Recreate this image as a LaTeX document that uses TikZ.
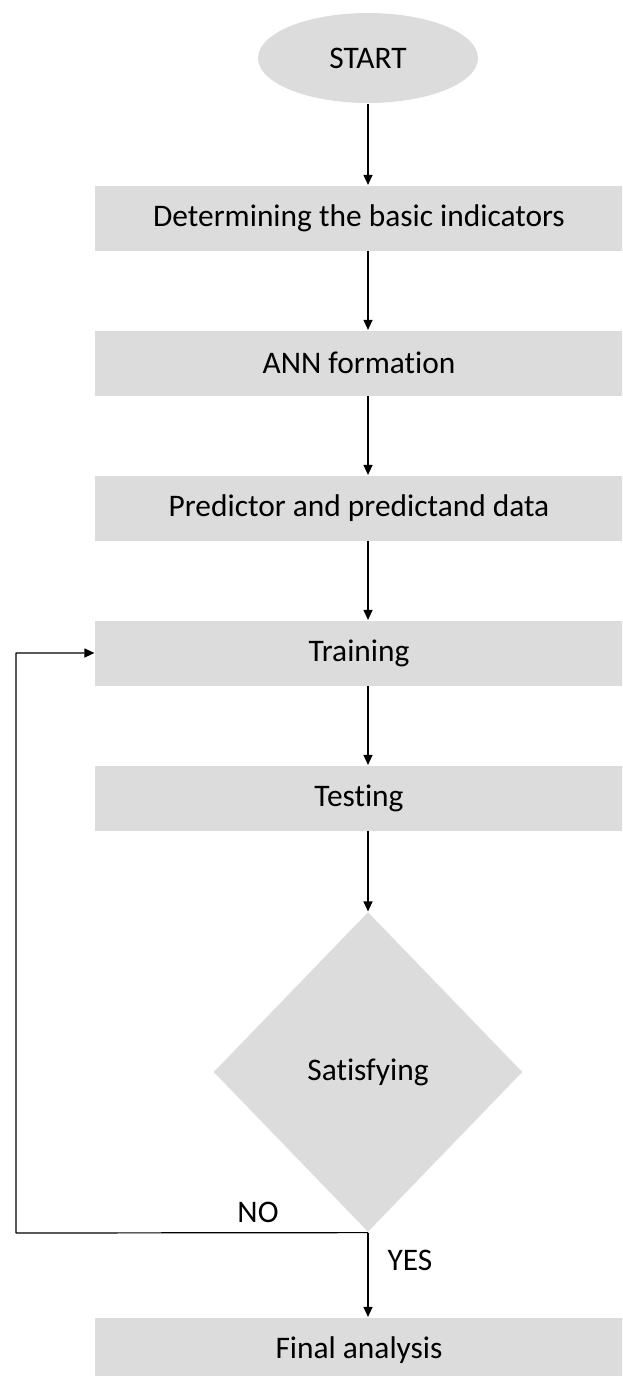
\documentclass[tikz,border=0pt]{standalone}
\usepackage{fontspec}
\setmainfont{Carlito}[Ligatures=NoCommon]
\usetikzlibrary{shapes.geometric,arrows.meta}
\definecolor{boxgray}{RGB}{220,220,220}
\begin{document}
\begin{tikzpicture}[x=0.5pt,y=-0.5pt,line join=round,>={Triangle[length=5pt,width=4.5pt]},line width=0.6pt]
                \tikzset{stepbox/.style={rectangle,fill=boxgray,minimum width=264pt,minimum height=32.5pt,inner sep=0pt,font=\fontsize{15.7pt}{18pt}\selectfont}}
                \tikzset{label style/.style={font=\fontsize{15.7pt}{18pt}\selectfont}}
                \def \xc{368}
                \def \xb{359}
                \useasboundingbox (0,0) rectangle (622,1376);
                \clip (0,0) rectangle (622,1376);
                % start and the chain of steps
                \node[ellipse,fill=boxgray,minimum width=110pt,minimum height=45pt,label style] (start) at (\xc,58) {START};
                \node[stepbox] (indic) at (\xb,218) {Determining the basic indicators};
                \node[stepbox] (ann) at (\xb,363) {ANN formation};
                \node[stepbox] (data) at (\xb,508) {Predictor and predictand data};
                \node[stepbox] (train) at (\xb,653) {Training};
                \node[stepbox] (test) at (\xb,798) {Testing};
                \node[diamond,fill=boxgray,minimum width=154.5pt,minimum height=160pt,inner sep=0pt,label style] (sat) at (\xc,1072) {Satisfying};
                \node[stepbox] (final) at (\xb,1350) {Final analysis};
                \draw[->] (start)--(start|-indic.north);
                \draw[->] (start|-indic.south)--(start|-ann.north);
                \draw[->] (start|-ann.south)--(start|-data.north);
                \draw[->] (start|-data.south)--(start|-train.north);
                \draw[->] (start|-train.south)--(start|-test.north);
                \draw[->] (start|-test.south)--(sat);
                \draw[->] (sat.south)--(sat|-final.north);
                % back to training when not satisfying
                \coordinate (back) at (16,1233);
                \draw[->] (sat.south)--(back)|-(train.west);
                \node[label style] (no) at (258,1212) {NO};
                \node[label style] (yes) at (410,1260) {YES};
        \end{tikzpicture}
\end{document}
